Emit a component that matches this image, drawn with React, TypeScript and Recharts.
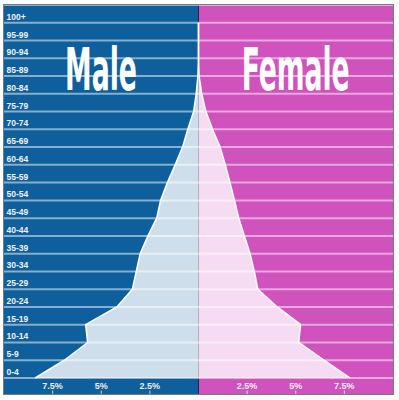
import { Area, AreaChart, CartesianGrid, XAxis, YAxis } from "recharts";

const ageGroups = [
  "0-4", "5-9", "10-14", "15-19", "20-24", "25-29", "30-34", "35-39", "40-44", "45-49",
  "50-54", "55-59", "60-64", "65-69", "70-74", "75-79", "80-84", "85-89", "90-94", "95-99", "100+",
];

// share of population, percent
const malePct = [8.4, 6.9, 5.7, 5.8, 4.2, 3.4, 3.2, 3.0, 2.6, 2.15, 1.95, 1.6, 1.2, 0.82, 0.55, 0.25, 0.12, 0.03, 0, 0, 0];
const femalePct = [7.8, 6.45, 5.15, 5.25, 4.05, 3.05, 2.87, 2.65, 2.36, 2.07, 1.85, 1.62, 1.38, 1.11, 0.72, 0.38, 0.17, 0.03, 0, 0, 0];

const pctTicks = [-7.5, -5, -2.5, 2.5, 5, 7.5];

const BLUE = "#0e5f9b";
const MAGENTA = "#cf52bd";
const TITLE_SQUEEZE = 0.55;

const rows = ageGroups.map((label, i) => ({
  pos: i,
  label,
  male: -malePct[i],
  female: femalePct[i],
}));

const renderAgeTick = (props: any) => {
  const { y, payload } = props;
  return (
    <text
      key={`age-${payload.value}`}
      x={2.5}
      y={y - 3}
      fill="#f2f2f2"
      fontSize={8.5}
      fontWeight="bold"
      fontFamily="'Liberation Sans', Arial, sans-serif"
    >
      {ageGroups[payload.value]}
    </text>
  );
};

const renderPctTick = (props: any) => {
  const { x, payload } = props;
  return (
    <g key={`pct-${payload.value}`}>
      <text
        x={x}
        y={384}
        textAnchor="middle"
        fill="#eeeeee"
        fontSize={9}
        fontWeight="bold"
        fontFamily="'Liberation Sans', Arial, sans-serif"
      >
        {`${Math.abs(payload.value)}%`}
      </text>
      <line x1={x} x2={x} y1={385.5} y2={389} stroke="rgba(255,255,255,0.7)" strokeWidth={1} />
    </g>
  );
};

function Title({ text, x, width }: { text: string; x: number; width: number }) {
  return (
    <text
      transform={`translate(${x},85) scale(${TITLE_SQUEEZE},1)`}
      x={0}
      y={0}
      fill="#ffffff"
      fontSize={58}
      fontWeight="bold"
      fontFamily="'DejaVu Sans Condensed', 'DejaVu Sans', sans-serif"
      textLength={width / TITLE_SQUEEZE}
      lengthAdjust="spacingAndGlyphs"
    >
      {text}
    </text>
  );
}

export default function App() {
  return (
    <div
      style={{
        position: "absolute",
        left: 3,
        top: 4,
        width: 389,
        height: 389,
        border: "1px solid #7a7a7a",
        background: `linear-gradient(to right, ${BLUE} 0px, ${BLUE} 194px, #2b2140 194px, #2b2140 195.5px, ${MAGENTA} 195.5px, ${MAGENTA} 100%)`,
      }}
    >
      <AreaChart
        layout="vertical"
        width={389}
        height={389}
        data={rows}
        margin={{ top: 0, right: 0, bottom: 0, left: -1 }}
      >
        <CartesianGrid horizontal vertical={false} stroke="rgba(255,255,255,0.5)" strokeWidth={2} />
        <XAxis
          type="number"
          domain={[-10, 10]}
          ticks={pctTicks}
          height={16}
          axisLine={false}
          tickLine={false}
          tick={renderPctTick}
          interval={0}
        />
        <YAxis
          type="number"
          dataKey="pos"
          domain={[0, 21]}
          ticks={ageGroups.map((_, i) => i)}
          reversed
          width={1}
          axisLine={false}
          tickLine={false}
          tick={renderAgeTick}
          interval={0}
        />
        <Area
          type="linear"
          dataKey="male"
          stroke="#ffffff"
          strokeWidth={1.5}
          fill="#ffffff"
          fillOpacity={0.8}
          dot={false}
          activeDot={false}
          isAnimationActive={false}
        />
        <Area
          type="linear"
          dataKey="female"
          stroke="#ffffff"
          strokeWidth={1.5}
          fill="#ffffff"
          fillOpacity={0.8}
          dot={false}
          activeDot={false}
          isAnimationActive={false}
        />
      </AreaChart>
      <svg width={389} height={389} style={{ position: "absolute", left: 0, top: 0, pointerEvents: "none" }}>
        <Title text="Male" x={61} width={72} />
        <Title text="Female" x={237.7} width={108} />
      </svg>
    </div>
  );
}
